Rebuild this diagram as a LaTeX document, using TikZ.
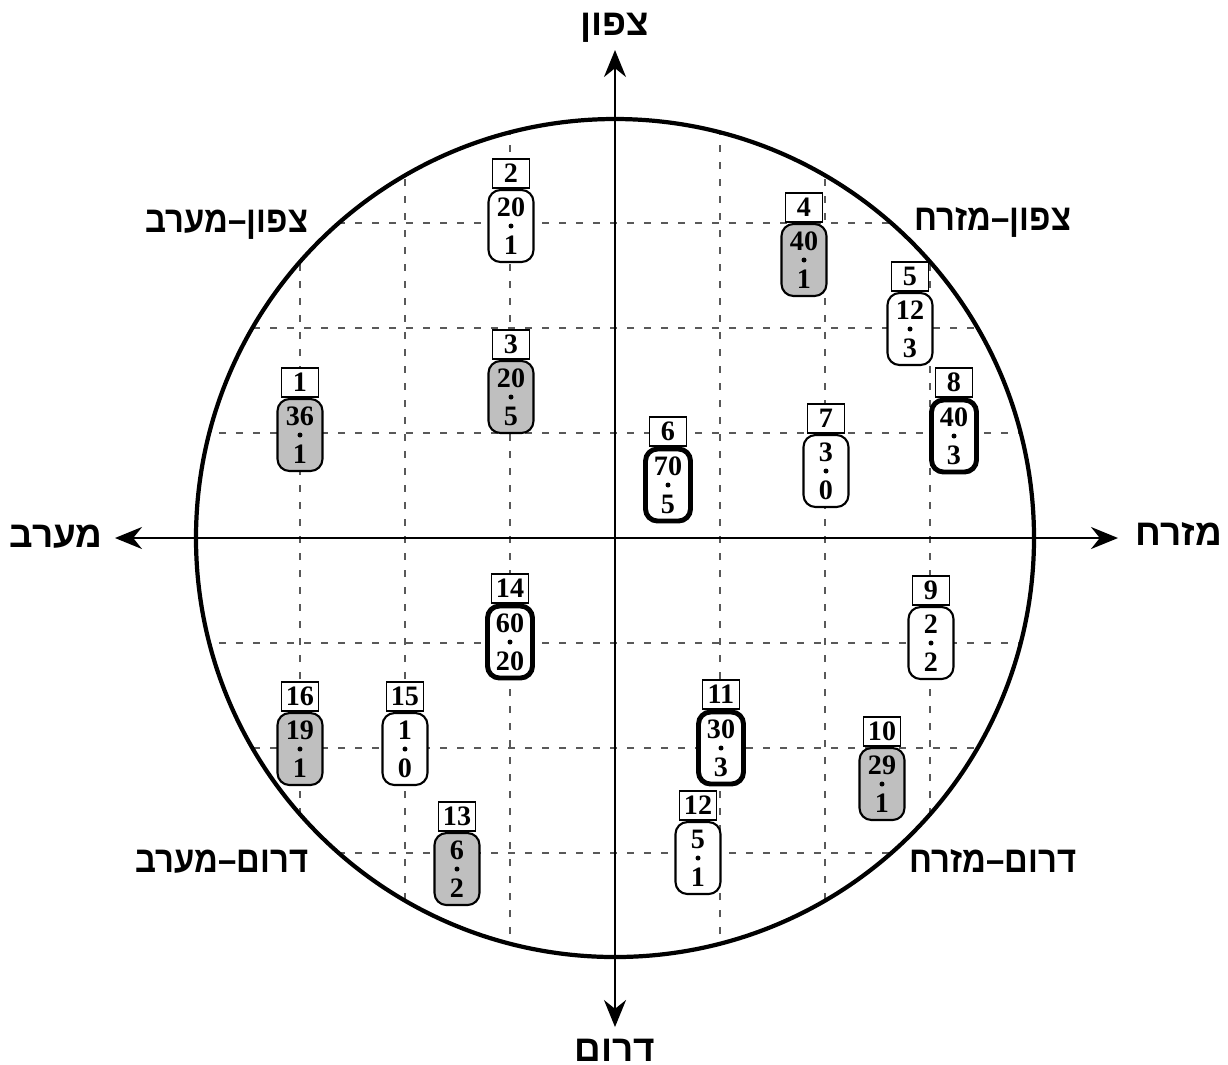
\documentclass[tikz,border=0pt]{standalone}
\usepackage{fontspec}
\setmainfont{Liberation Serif}
\newfontfamily\hebfont[Script=Hebrew]{Liberation Sans}
\TeXXeTstate=1
\usepackage{xcolor}
\usepackage{tikz}
\usetikzlibrary{arrows.meta,positioning}

\begin{document}
\begin{tikzpicture}[
        gridline/.style={line width=0.4pt, black!65, dash pattern=on 0.07cm off 0.1cm},
        axisline/.style={line width=0.6pt, {Stealth[length=0.27cm,width=0.22cm]}-{Stealth[length=0.27cm,width=0.22cm]}},
        dirlabel/.style={font=\hebfont\bfseries\fontsize{10.5}{12}\selectfont, anchor=base, inner sep=0pt},
        station/.style={draw, line width=0.6pt, rounded corners=0.12cm, fill=white,
            minimum width=0.45cm, minimum height=0.72cm, inner sep=0pt,
            align=center, font=\bfseries\fontsize{8}{10.8}\selectfont},
        stationgray/.style={station, fill=gray!50},
        stationbold/.style={station, line width=1.4pt},
        stationno/.style={draw, line width=0.5pt, fill=white, minimum width=0.37cm,
            minimum height=0.29cm, inner sep=0pt, font=\bfseries\fontsize{8}{9}\selectfont}
    ]
    \useasboundingbox (-6.15,-5.26) rectangle (6.13,5.38);

    \begin{scope}
        \clip (0,0) circle (4.19);
        \foreach \k in {-3,-2,-1,1,2,3} {
            \draw[gridline] (\k*1.05,-4.3) -- (\k*1.05,4.3);
            \draw[gridline] (-4.3,\k*1.05) -- (4.3,\k*1.05);
        }
    \end{scope}

    \draw[line width=1.2pt] (0,0) circle (4.19);

    \coordinate (W) at (-5.0,0);
    \coordinate (E) at (5.03,0);
    \coordinate (N) at (0,4.88);
    \coordinate (S) at (0,-4.89);
    \draw[axisline] (W) -- (E);
    \draw[axisline] (S) -- (N);

    \node[dirlabel] (north) at (0,5.03) {\beginR צפון\endR};
    \node[dirlabel] (south) at (0,-5.23) {\beginR דרום\endR};
    \node[dirlabel] (west) at (-5.59,-0.09) {\beginR מערב\endR};
    \node[dirlabel] (east) at (5.64,-0.07) {\beginR מזרח\endR};
    \node[dirlabel] (nw) at (-3.88,3.06) {\scalebox{0.89}[1]{\beginR צפון–מערב\endR}};
    \node[dirlabel] (ne) at (3.78,3.08) {\scalebox{0.89}[1]{\beginR צפון–מזרח\endR}};
    \node[dirlabel] (sw) at (-3.93,-3.34) {\scalebox{0.89}[1]{\beginR דרום–מערב\endR}};
    \node[dirlabel] (se) at (3.78,-3.34) {\scalebox{0.89}[1]{\beginR דרום–מזרח\endR}};

    \node[stationgray] (s1) at (-3.15,1.03) {36\\1};
    \node[station] (s2) at (-1.04,3.12) {20\\1};
    \node[stationgray] (s3) at (-1.04,1.41) {20\\5};
    \node[stationgray] (s4) at (1.89,2.78) {40\\1};
    \node[station] (s5) at (2.95,2.09) {12\\3};
    \node[stationbold] (s6) at (0.53,0.53) {70\\5};
    \node[station] (s7) at (2.11,0.67) {3\\0};
    \node[stationbold] (s8) at (3.39,1.02) {40\\3};
    \node[station] (s9) at (3.16,-1.05) {2\\2};
    \node[stationgray] (s10) at (2.67,-2.46) {29\\1};
    \node[stationbold] (s11) at (1.06,-2.10) {30\\3};
    \node[station] (s12) at (0.83,-3.20) {5\\1};
    \node[stationgray] (s13) at (-1.58,-3.31) {6\\2};
    \node[stationbold] (s14) at (-1.05,-1.04) {60\\20};
    \node[station] (s15) at (-2.10,-2.11) {1\\0};
    \node[stationgray] (s16) at (-3.15,-2.11) {19\\1};

    \foreach \s in {1,...,16} {
        \node[stationno, above=0pt of s\s] (n\s) {\s};
        \fill (s\s.center) circle (0.025);
    }

\end{tikzpicture}
\end{document}
